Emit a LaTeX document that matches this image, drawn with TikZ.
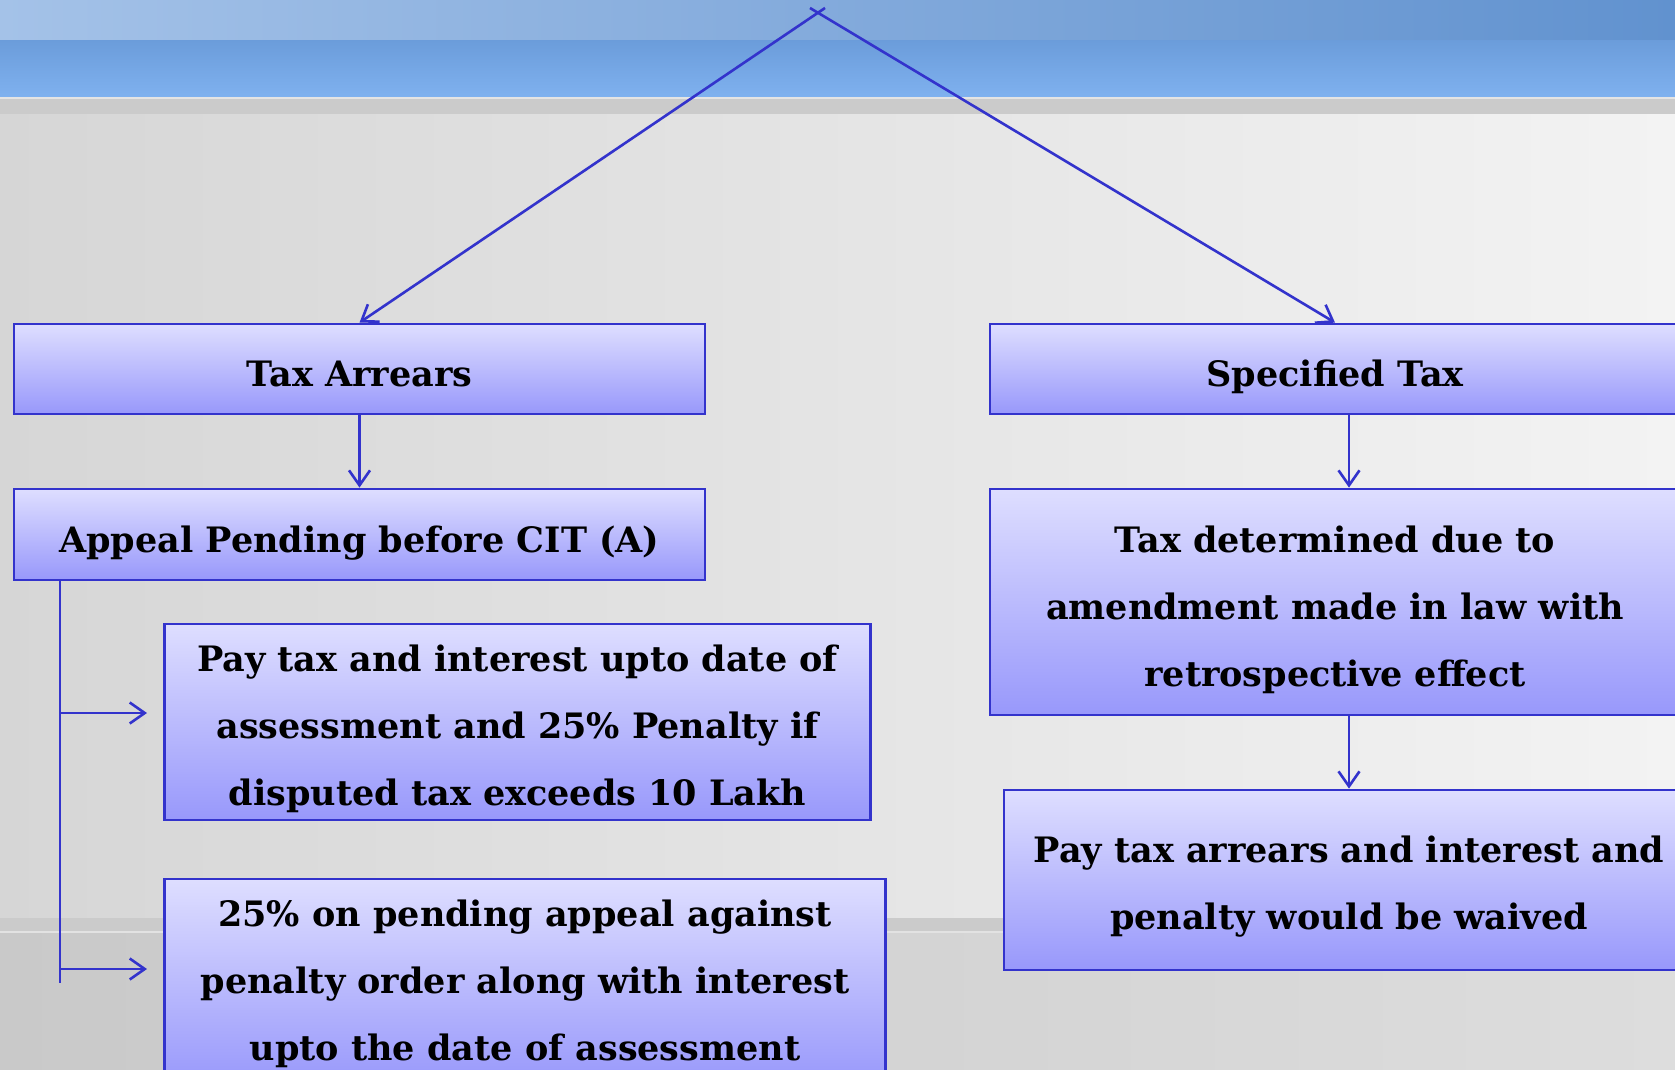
\documentclass[tikz,border=0pt]{standalone}
\usepackage{fontspec}
\setmainfont{DejaVu Serif}
\usetikzlibrary{arrows.meta}
\definecolor{edge}{HTML}{3333CC}
\definecolor{boxtop}{HTML}{DEDEFF}
\definecolor{boxbot}{HTML}{9898FB}
\definecolor{banTop}{HTML}{5D8ECC}
\definecolor{banBot}{HTML}{7FB1EF}
\definecolor{banHiL}{HTML}{A4C2E8}
\definecolor{banHiR}{HTML}{6192CF}
\definecolor{lineA}{HTML}{E4E4E4}
\definecolor{stripe}{HTML}{CBCBCB}
\definecolor{bgL}{HTML}{D6D6D6}
\definecolor{bgM}{HTML}{E8E8E8}
\definecolor{bgR}{HTML}{F3F3F3}
\definecolor{lineB}{HTML}{E2E2E2}
\definecolor{lowL}{HTML}{C9C9C9}
\definecolor{lowR}{HTML}{DDDDDD}
\tikzset{
  box/.style={draw=edge, line width=2.8pt, top color=boxtop, bottom color=boxbot, inner sep=0pt},
  boxtext/.style={inner sep=0pt, align=center, font=\fontsize{35}{67}\selectfont\bfseries, text=black},
  conn/.style={draw=edge, line width=2.6pt, -{Straight Barb[length=15pt,width=21pt]}},
  plain/.style={draw=edge, line width=2.6pt}
}
\begin{document}
\begin{tikzpicture}[x=1pt,y=-1pt]
\clip (0,0) rectangle (1675,1070);
% background
\shade[top color=banTop, bottom color=banBot] (0,0) rectangle (1675,97);
\shade[left color=banHiL, right color=banHiR] (0,0) rectangle (1675,40);
\fill[lineA] (0,97) rectangle (1675,99);
\fill[stripe] (0,99) rectangle (1675,115);
\shade[left color=bgL, middle color=bgM, right color=bgR] (0,115) rectangle (1675,918);
\fill[stripe] (0,918) rectangle (1675,931);
\fill[lineB] (0,931) rectangle (1675,933);
\shade[left color=lowL, right color=lowR] (0,933) rectangle (1675,1070);

% boxes
\node[box, minimum width=691, minimum height=90] (ta) at (359.5,369) {};
\node[box, minimum width=690, minimum height=90] (st) at (1335,369) {};
\node[box, minimum width=691, minimum height=91] (ap) at (359.5,534.5) {};
\node[box, minimum width=706, minimum height=196] (pay) at (517.5,722) {};
\node[box, minimum width=721, minimum height=206] (pen) at (525,982) {};
\node[box, minimum width=690, minimum height=226] (td) at (1335,602) {};
\node[box, minimum width=690, minimum height=180] (pa) at (1349,880) {};
% texts
\node[boxtext] (tat) at ([yshift=-5pt]ta.center) {Tax Arrears};
\node[boxtext] (stt) at ([yshift=-8pt]st.center) {Specified Tax};
\node[boxtext] (apt) at ([yshift=-9pt]ap.center) {Appeal Pending before CIT (A)};
\node[boxtext] (payt) at ([yshift=-7pt]pay.center) {Pay tax and interest upto date of\\assessment and 25\% Penalty if\\disputed tax exceeds 10 Lakh};
\node[boxtext] (pent) at ([yshift=-2pt]pen.center) {25\% on pending appeal against\\penalty order along with interest\\upto the date of assessment};
\node[boxtext] (tdt) at ([yshift=-8pt]td.center) {Tax determined due to\\amendment made in law with\\retrospective effect};
\node[boxtext] (pat) at ([yshift=-7pt]pa.center) {Pay tax arrears and interest and\\penalty would be waived};

% connectors
\coordinate (apexL) at (825,8);
\coordinate (apexR) at (810,8);
\draw[conn] (apexL) -- (ta.north);
\draw[conn] (apexR) -- (st.north);
\draw[conn] (ta.south) -- (ap.north);
\draw[conn] (st.south -| pa.north) -- (td.north -| pa.north);
\draw[conn] (td.south -| pa.north) -- (pa.north);
\coordinate (bus) at (60,580);
\coordinate (busend) at (60,983);
\coordinate (b1) at (60,713);
\coordinate (b1e) at (147,713);
\coordinate (b2) at (60,969);
\coordinate (b2e) at (147,969);
\draw[plain] (bus) -- (busend);
\draw[conn] (b1) -- (b1e);
\draw[conn] (b2) -- (b2e);
\end{tikzpicture}
\end{document}
